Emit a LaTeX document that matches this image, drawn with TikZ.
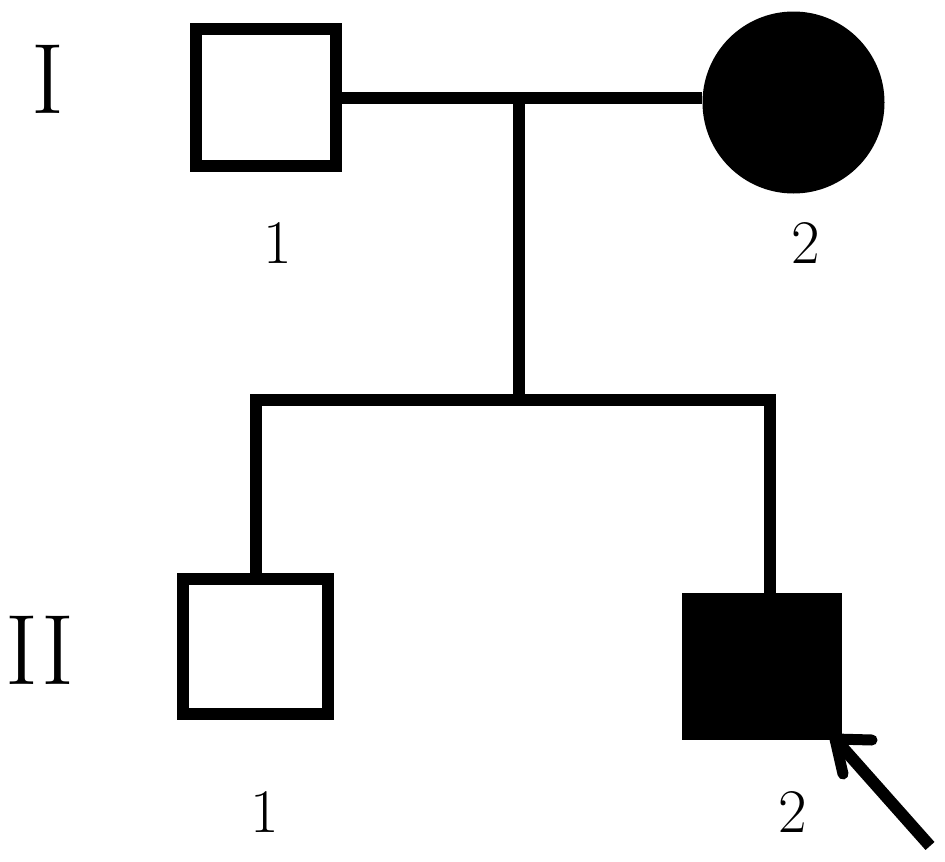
\documentclass[tikz,border=0pt]{standalone}
\usepackage{fontspec}
\begin{document}
\begin{tikzpicture}[x=1pt,y=-1pt,
  person/.style={draw=black,line width=12pt,fill=white,inner sep=0pt},
  affected/.style={fill=black,inner sep=0pt},
  conn/.style={line width=12pt,line join=miter},
  gen/.style={inner sep=0pt,font=\fontsize{100}{110}\selectfont},
  num/.style={inner sep=0pt,font=\fontsize{62}{70}\selectfont}]
\useasboundingbox (0,0) rectangle (945,862);
% generation I
\node[person,rectangle,minimum width=140pt,minimum height=137pt] (i1) at (266,97.5) {};
\node[affected,circle,minimum size=182pt] (i2) at (793.5,102.5) {};
\coordinate (m1) at (519,97);
\coordinate (m2) at (519,400);
% generation II
\node[person,rectangle,minimum width=145pt,minimum height=135pt] (ii1) at (255.5,646.5) {};
\node[affected,rectangle,minimum width=160pt,minimum height=147pt] (ii2) at (762,666.5) {};
\coordinate (d2) at (770,400);
% connectors
\draw[conn] (i1.east) -- (i1.east -| i2.west);
\draw[conn] (m1) -- (m2);
\draw[conn] (ii1.north) |- (m2) -| (d2 |- ii2.north);
% labels
\node[gen] (gI) at (48,79) {I};
\node[gen] (gII) at (40,650) {II};
\node[num] (n11) at (278,243) {1};
\node[num] (n12) at (806,243) {2};
\node[num] (n21) at (265,812) {1};
\node[num] (n22) at (793,812) {2};
% proband arrow
\coordinate (tip) at (835,739);
\coordinate (tail) at (930,846);
\coordinate (b1) at (872,740);
\coordinate (b2) at (843,774);
\draw[line width=12pt] (tail) -- (tip);
\draw[line width=11pt,line cap=round,line join=round] (b1) -- (tip) -- (b2);
\end{tikzpicture}
\end{document}
